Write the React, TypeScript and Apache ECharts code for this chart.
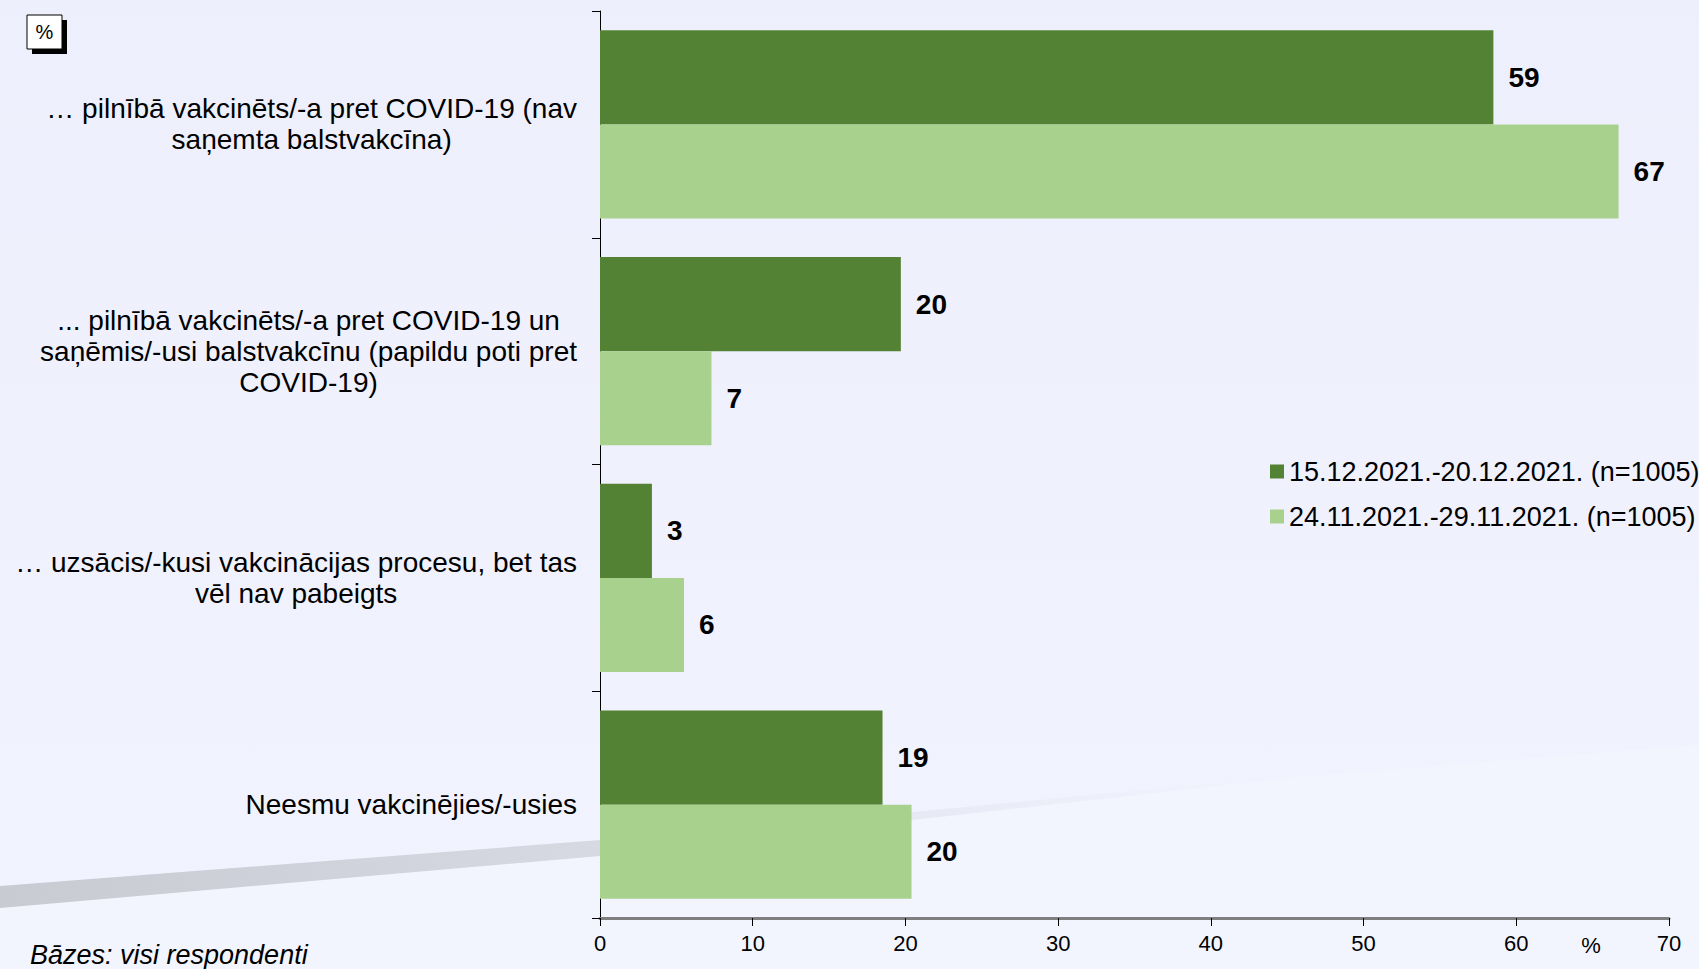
import React, { useEffect, useRef } from "react";
import * as echarts from "echarts";

const categories: string[] = [
  "… pilnībā vakcinēts/-a pret COVID-19 (nav\nsaņemta balstvakcīna)",
  "... pilnībā vakcinēts/-a pret COVID-19 un\nsaņēmis/-usi balstvakcīnu (papildu poti pret\nCOVID-19)",
  "… uzsācis/-kusi vakcinācijas procesu, bet tas\nvēl nav pabeigts",
  "Neesmu vakcinējies/-usies",
];
const seriesNames: string[] = [
  "15.12.2021.-20.12.2021. (n=1005)",
  "24.11.2021.-29.11.2021. (n=1005)",
];
const valuesDec: number[] = [58.5, 19.7, 3.4, 18.5];
const valuesNov: number[] = [66.7, 7.3, 5.5, 20.4];
const xMin = 0;
const xMax = 70;
const xInterval = 10;
const unitLabel = "%";
const baseNote = "Bāzes: visi respondenti";

const FONT = "'Liberation Sans', Arial, sans-serif";

export default function App() {
  const ref = useRef<HTMLDivElement>(null);
  useEffect(() => {
    if (!ref.current) return;
    const chart = echarts.init(ref.current, null, { renderer: "svg" });
    const labelStyle = {
      show: true,
      position: "right",
      distance: 15,
      formatter: (p: any) => String(Math.round(p.value)),
      fontFamily: FONT,
      fontWeight: "bold",
      fontSize: 28,
      color: "#000",
    };
    chart.setOption({
      animation: false,
      backgroundColor: {
        type: "linear", x: 0, y: 0, x2: 0, y2: 1,
        colorStops: [
          { offset: 0, color: "#EEEFFC" },
          { offset: 1, color: "#F1F3FE" },
        ],
      },
      textStyle: { fontFamily: FONT },
      grid: { left: 600, right: 30, top: 11, bottom: 51, containLabel: false },
      legend: {
        data: seriesNames,
        orient: "vertical",
        left: 1270,
        top: 458,
        padding: 0,
        itemWidth: 14,
        itemHeight: 14,
        itemGap: 18,
        icon: "rect",
        textStyle: { fontFamily: FONT, fontSize: 27, lineHeight: 27, color: "#000", padding: [0, 0, 0, 0] },
      },
      xAxis: {
        type: "value",
        min: xMin,
        max: xMax,
        interval: xInterval,
        splitLine: { show: false },
        axisLine: { show: true, lineStyle: { color: "#7F7F7F", width: 3 } },
        axisTick: { show: true, length: 8, lineStyle: { color: "#000", width: 1 } },
        axisLabel: { fontFamily: FONT, fontSize: 22, color: "#000", margin: 14 },
      },
      yAxis: {
        type: "category",
        inverse: true,
        data: categories,
        axisLine: { show: true, lineStyle: { color: "#000", width: 1 } },
        axisTick: { show: true, length: 8, lineStyle: { color: "#000", width: 1 } },
        axisLabel: {
          margin: 23,
          align: "right",
          formatter: (v: string) => v.split("\n").map((l) => `{c|${l}}`).join("\n"),
          rich: {
            c: { align: "center", fontFamily: FONT, fontSize: 28, lineHeight: 31, color: "#000" },
          },
        },
      },
      series: [
        {
          name: seriesNames[0],
          type: "bar",
          data: valuesDec,
          barGap: "0%",
          barCategoryGap: "17%",
          itemStyle: { color: "#548235" },
          label: labelStyle,
        },
        {
          name: seriesNames[1],
          type: "bar",
          data: valuesNov,
          barGap: "0%",
          barCategoryGap: "17%",
          itemStyle: { color: "#A9D18E" },
          label: labelStyle,
        },
      ],
      graphic: [
        {
          type: "polygon",
          z: -2,
          silent: true,
          shape: { points: [[0, 908], [600, 856], [913, 820], [1300, 777], [1699, 745], [1699, 969], [0, 969]] },
          style: { fill: "#F3F5FE" },
        },
        {
          type: "polygon",
          z: -1,
          silent: true,
          shape: {
            points: [[0, 886], [600, 840], [913, 812], [1300, 775], [1300, 777], [913, 820], [600, 856], [0, 908]],
          },
          style: {
            fill: {
              type: "linear", x: 0, y: 0, x2: 1, y2: 0,
              colorStops: [
                { offset: 0, color: "#C9CBD3" },
                { offset: 0.45, color: "#D6D8E2" },
                { offset: 0.7, color: "#E6E8F3" },
                { offset: 1, color: "rgba(238,240,252,0)" },
              ],
            },
          },
        },
        {
          type: "rect",
          silent: true,
          shape: { x: 32, y: 20, width: 35, height: 34 },
          style: { fill: "#000" },
        },
        {
          type: "rect",
          silent: true,
          shape: { x: 27, y: 15, width: 35, height: 34 },
          style: { fill: "#fff", stroke: "#000", lineWidth: 1 },
        },
        {
          type: "text",
          silent: true,
          x: 44.5,
          y: 32,
          style: { text: "%", fontFamily: FONT, fontSize: 20, fill: "#000", align: "center", verticalAlign: "middle" },
        },
        {
          type: "text",
          silent: true,
          x: 1591,
          y: 945,
          style: { text: unitLabel, fontFamily: FONT, fontSize: 22, fill: "#000", align: "center", verticalAlign: "middle" },
        },
        {
          type: "text",
          silent: true,
          x: 30,
          y: 955,
          style: { text: baseNote, fontFamily: FONT, fontSize: 27, fontStyle: "italic", fill: "#000", align: "left", verticalAlign: "middle" },
        },
      ],
    });
    return () => chart.dispose();
  }, []);
  return <div ref={ref} style={{ position: "fixed", left: 0, top: 0, width: 1699, height: 969 }} />;
}
